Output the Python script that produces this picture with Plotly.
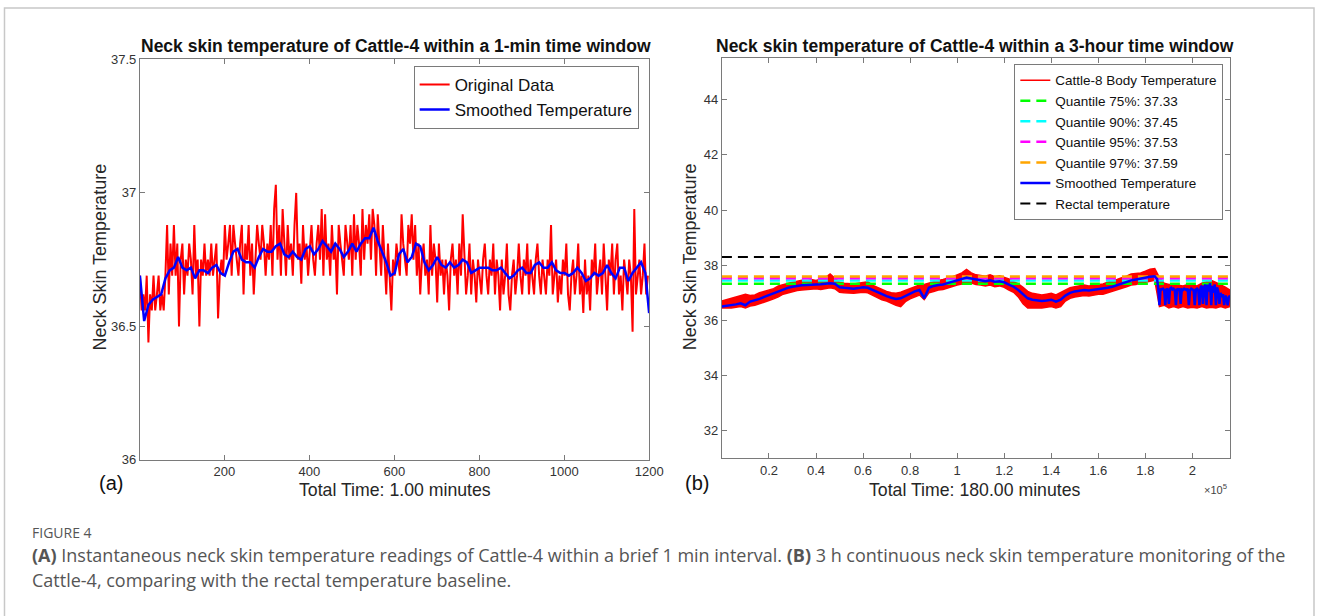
import numpy as np
import plotly.graph_objects as go

W, H = 1328, 616
# measured mapping between layout pixels and the photographed picture
SX, OY, SY = 0.99, 7.0, 0.977

# ---------------- Panel (a): 1-min window (20 Hz samples) ----------------
a_raw_step = 4  # one reading shown every 4 samples
a_raw = [
    36.69, 36.56, 36.62, 36.56, 36.69, 36.44, 36.62, 36.56, 36.69, 36.56, 36.62, 36.69, 36.56, 36.62, 36.56, 36.69, 36.88, 36.62, 36.81, 36.69,
    36.88, 36.69, 36.81, 36.50, 36.75, 36.81, 36.62, 36.75, 36.69, 36.81, 36.75, 36.62, 36.88, 36.69, 36.75, 36.50, 36.75, 36.69, 36.81, 36.69,
    36.75, 36.69, 36.81, 36.69, 36.75, 36.81, 36.53, 36.69, 36.75, 36.69, 36.88, 36.75, 36.81, 36.88, 36.69, 36.88, 36.81, 36.75, 36.69, 36.81,
    36.88, 36.62, 36.81, 36.75, 36.88, 36.69, 36.81, 36.62, 36.75, 36.88, 36.81, 36.75, 36.88, 36.81, 36.69, 36.81, 36.75, 36.88, 36.69, 36.94,
    37.03, 36.75, 36.88, 36.69, 36.94, 36.81, 36.69, 36.88, 36.75, 36.81, 36.69, 36.88, 37.00, 36.75, 36.81, 36.66, 36.88, 36.75, 36.81, 36.69,
    36.81, 36.88, 36.75, 36.69, 36.81, 36.88, 36.75, 36.94, 36.69, 36.92, 36.75, 36.81, 36.69, 36.88, 36.75, 36.81, 36.62, 36.88, 36.81, 36.75,
    36.69, 36.88, 36.81, 36.75, 36.88, 36.69, 36.92, 36.75, 36.88, 36.81, 36.69, 36.94, 36.75, 36.88, 36.81, 36.92, 36.75, 36.94, 36.88, 36.69,
    36.92, 36.81, 36.69, 36.88, 36.75, 36.62, 36.81, 36.69, 36.56, 36.75, 36.69, 36.81, 36.75, 36.69, 36.92, 36.81, 36.75, 36.69, 36.88, 36.81,
    36.92, 36.75, 36.88, 36.69, 36.81, 36.62, 36.75, 36.81, 36.69, 36.75, 36.62, 36.88, 36.69, 36.81, 36.75, 36.59, 36.81, 36.69, 36.75, 36.62,
    36.75, 36.69, 36.56, 36.75, 36.81, 36.69, 36.75, 36.62, 36.81, 36.69, 36.92, 36.75, 36.62, 36.69, 36.81, 36.62, 36.75, 36.69, 36.59, 36.75,
    36.69, 36.62, 36.75, 36.81, 36.69, 36.62, 36.75, 36.69, 36.81, 36.62, 36.75, 36.69, 36.56, 36.75, 36.62, 36.69, 36.81, 36.62, 36.56, 36.69,
    36.75, 36.62, 36.69, 36.81, 36.69, 36.62, 36.75, 36.69, 36.81, 36.62, 36.75, 36.69, 36.62, 36.75, 36.81, 36.69, 36.62, 36.75, 36.69, 36.62,
    36.75, 36.69, 36.88, 36.62, 36.69, 36.75, 36.59, 36.69, 36.62, 36.75, 36.69, 36.81, 36.62, 36.56, 36.69, 36.75, 36.62, 36.69, 36.81, 36.62,
    36.69, 36.55, 36.75, 36.62, 36.69, 36.56, 36.75, 36.69, 36.81, 36.62, 36.69, 36.75, 36.62, 36.81, 36.69, 36.56, 36.75, 36.69, 36.81, 36.62,
    36.75, 36.81, 36.62, 36.69, 36.56, 36.75, 36.69, 36.62, 36.75, 36.69, 36.48, 36.94, 36.62, 36.69, 36.75, 36.62, 36.69, 36.81, 36.62, 36.69,
]
a_smooth_step = 10
a_smooth = [
    36.69, 36.52, 36.58, 36.60, 36.61, 36.62, 36.68, 36.71, 36.72, 36.76, 36.72, 36.71, 36.72, 36.68, 36.71, 36.71, 36.70, 36.72, 36.73, 36.70,
    36.69, 36.74, 36.78, 36.79, 36.75, 36.74, 36.74, 36.72, 36.76, 36.79, 36.78, 36.78, 36.80, 36.81, 36.77, 36.76, 36.78, 36.76, 36.75, 36.79,
    36.80, 36.77, 36.79, 36.82, 36.80, 36.78, 36.81, 36.79, 36.76, 36.78, 36.81, 36.78, 36.81, 36.83, 36.83, 36.87, 36.82, 36.78, 36.74, 36.69,
    36.70, 36.77, 36.79, 36.74, 36.76, 36.81, 36.80, 36.74, 36.71, 36.73, 36.76, 36.73, 36.72, 36.74, 36.72, 36.73, 36.75, 36.74, 36.70, 36.71,
    36.72, 36.72, 36.72, 36.71, 36.71, 36.72, 36.70, 36.68, 36.69, 36.71, 36.72, 36.70, 36.70, 36.73, 36.74, 36.72, 36.72, 36.74, 36.71, 36.70,
    36.70, 36.69, 36.70, 36.72, 36.70, 36.67, 36.68, 36.70, 36.69, 36.70, 36.73, 36.70, 36.68, 36.72, 36.72, 36.67, 36.70, 36.72, 36.74, 36.70,
    36.55,
]
a_xticks = [200, 400, 600, 800, 1000, 1200]
a_yticks = [36, 36.5, 37, 37.5]

# ---------------- Panel (b): 3-hour window ----------------
b_step = 2000
b_raw_high = [
    36.70, 36.75, 36.80, 36.85, 36.90, 36.95, 36.90, 36.92, 37.00, 37.05, 37.12, 37.15, 37.25, 37.30, 37.35, 37.38, 37.42, 37.45, 37.42, 37.48,
    37.45, 37.50, 37.55, 37.68, 37.52, 37.38, 37.35, 37.33, 37.32, 37.35, 37.38, 37.40, 37.28, 37.20, 37.12, 37.05, 37.00, 36.98, 37.02, 37.08,
    37.15, 37.22, 37.28, 37.30, 37.35, 37.42, 37.45, 37.48, 37.52, 37.58, 37.65, 37.72, 37.85, 37.72, 37.65, 37.62, 37.60, 37.65, 37.58, 37.62,
    37.55, 37.50, 37.40, 37.32, 37.20, 37.05, 36.98, 36.95, 36.92, 36.95, 36.98, 36.92, 37.00, 37.08, 37.18, 37.22, 37.25, 37.28, 37.25, 37.28,
    37.30, 37.32, 37.38, 37.42, 37.48, 37.55, 37.60, 37.68, 37.70, 37.72, 37.78, 37.85, 37.88, 37.55, 37.35, 37.30, 37.30, 37.28, 37.25, 37.30,
    37.28, 37.25, 37.35, 37.40, 37.45, 37.38, 37.30, 37.20, 37.10,
]
b_raw_low = [
    36.45, 36.45, 36.45, 36.48, 36.50, 36.45, 36.52, 36.55, 36.60, 36.65, 36.72, 36.78, 36.85, 36.95, 37.00, 37.05, 37.08, 37.10, 37.12, 37.12,
    37.15, 37.12, 37.15, 37.18, 37.15, 37.02, 37.00, 36.98, 36.98, 37.00, 37.02, 37.00, 36.92, 36.85, 36.75, 36.70, 36.62, 36.55, 36.50, 36.68,
    36.78, 36.85, 36.92, 36.75, 37.00, 37.05, 37.10, 37.12, 37.18, 37.22, 37.28, 37.32, 37.38, 37.35, 37.30, 37.28, 37.25, 37.28, 37.22, 37.25,
    37.20, 37.10, 37.02, 36.85, 36.60, 36.45, 36.45, 36.45, 36.45, 36.48, 36.50, 36.45, 36.50, 36.70, 36.80, 36.85, 36.88, 36.90, 36.88, 36.92,
    36.95, 36.95, 37.00, 37.05, 37.10, 37.15, 37.22, 37.28, 37.30, 37.35, 37.38, 37.40, 37.45, 36.50, 36.55, 36.45, 36.50, 36.45, 36.50, 36.45,
    36.48, 36.45, 36.50, 36.45, 36.48, 36.45, 36.50, 36.45, 36.50,
]
# smoothed curve: every 2000 samples up to 184000, then every 500 samples
b_smooth_main = [
    36.50, 36.52, 36.55, 36.58, 36.62, 36.55, 36.68, 36.72, 36.78, 36.85, 36.92, 36.98, 37.05, 37.12, 37.18, 37.22, 37.25, 37.27, 37.28, 37.30,
    37.30, 37.31, 37.32, 37.35, 37.33, 37.20, 37.18, 37.16, 37.15, 37.17, 37.20, 37.18, 37.10, 37.02, 36.95, 36.88, 36.82, 36.78, 36.80, 36.88,
    36.98, 37.05, 37.10, 36.80, 37.18, 37.25, 37.28, 37.30, 37.35, 37.40, 37.45, 37.50, 37.55, 37.52, 37.48, 37.45, 37.42, 37.45, 37.40, 37.42,
    37.38, 37.30, 37.22, 37.10, 36.95, 36.80, 36.75, 36.72, 36.70, 36.72, 36.75, 36.68, 36.75, 36.90, 37.00, 37.05, 37.08, 37.10, 37.08, 37.10,
    37.12, 37.15, 37.18, 37.22, 37.28, 37.35, 37.40, 37.45, 37.48, 37.52, 37.55, 37.58, 37.60,
]
b_tail_step = 500
b_smooth_tail = [
    37.55, 37.50, 37.15, 36.55, 37.15, 37.12, 37.15, 37.10, 36.55, 37.15, 37.12, 36.60, 37.15, 37.18, 37.12, 37.15,
    37.10, 36.55, 37.15, 37.12, 37.15, 36.60, 37.12, 37.10, 37.15, 37.12, 37.10, 37.15, 36.55, 37.10, 37.15, 37.12,
    37.10, 36.55, 37.12, 37.15, 37.10, 36.55, 37.20, 37.25, 36.60, 37.20, 37.30, 36.55, 37.30, 37.05, 37.35, 36.55,
    37.25, 37.00, 37.30, 36.55, 37.20, 37.05, 36.60, 37.00, 36.85, 36.95, 36.55, 36.90, 36.80, 36.55, 36.85, 36.90,
]
quantile_names = ["Quantile 75%: 37.33", "Quantile 90%: 37.45", "Quantile 95%: 37.53", "Quantile 97%: 37.59"]
quantile_values = [37.33, 37.45, 37.53, 37.59]
quantile_colors = ["#00FF00", "#00FFFF", "#FF00FF", "#FFA500"]
rectal_temp = 38.3
b_xmax = 216000
b_xtick_vals = [20000, 40000, 60000, 80000, 100000, 120000, 140000, 160000, 180000, 200000]
b_xtick_text = ["0.2", "0.4", "0.6", "0.8", "1", "1.2", "1.4", "1.6", "1.8", "2"]
b_yticks = [32, 34, 36, 38, 40, 42, 44]

# ---------------- figure (positions given in picture pixels) ----------------
def px_x(p):
    return min(1.0, max(0.0, (p / SX) / W))

def px_y(p):
    return 1 - ((p - OY) / SY) / H

fig = go.Figure()

a_raw_x = 1 + a_raw_step * np.arange(len(a_raw))
a_smooth_x = np.minimum(1 + a_smooth_step * np.arange(len(a_smooth)), 1200)

fig.add_trace(go.Scatter(x=a_raw_x, y=a_raw, mode="lines", name="Original Data",
                         line=dict(color="#FF0000", width=2), xaxis="x", yaxis="y", legend="legend"))
fig.add_trace(go.Scatter(x=a_smooth_x, y=a_smooth, mode="lines", name="Smoothed Temperature",
                         line=dict(color="#0000FF", width=2.5), xaxis="x", yaxis="y", legend="legend"))

b_x = b_step * np.arange(len(b_raw_high))
b_smooth_x = np.concatenate([b_step * np.arange(len(b_smooth_main)),
                             b_step * (len(b_smooth_main) - 1) + b_tail_step * (1 + np.arange(len(b_smooth_tail)))])
b_smooth_y = b_smooth_main + b_smooth_tail

fig.add_trace(go.Scatter(x=b_x, y=b_raw_high, mode="lines", name="Cattle-8 Body Temperature",
                         line=dict(color="#FF0000", width=1.5), xaxis="x2", yaxis="y2", legend="legend2"))
fig.add_trace(go.Scatter(x=b_x, y=b_raw_low, mode="lines", fill="tonexty", fillcolor="#FF0000",
                         line=dict(color="#FF0000", width=1.5), showlegend=False,
                         xaxis="x2", yaxis="y2", legend="legend2"))
for nm, val, col in zip(quantile_names, quantile_values, quantile_colors):
    fig.add_trace(go.Scatter(x=[0, b_xmax], y=[val, val], mode="lines", name=nm,
                             line=dict(color=col, width=2.5, dash="10px,6px"),
                             xaxis="x2", yaxis="y2", legend="legend2"))
fig.add_trace(go.Scatter(x=b_smooth_x, y=b_smooth_y, mode="lines", name="Smoothed Temperature",
                         line=dict(color="#0000FF", width=2.5), xaxis="x2", yaxis="y2", legend="legend2"))
fig.add_trace(go.Scatter(x=[0, b_xmax], y=[rectal_temp, rectal_temp], mode="lines", name="Rectal temperature",
                         line=dict(color="#000000", width=2, dash="10px,6px"),
                         xaxis="x2", yaxis="y2", legend="legend2"))

axis_common = dict(showline=True, linecolor="#7a7a7a", linewidth=1, mirror="ticks",
                   ticks="inside", ticklen=5, tickcolor="#7a7a7a", showgrid=False, zeroline=False,
                   tickfont=dict(family="Liberation Sans, Arial", size=13, color="#333333"))

fig.update_layout(
    width=W, height=H,
    margin=dict(l=0, r=0, t=0, b=0),
    paper_bgcolor="white", plot_bgcolor="white",
    font=dict(family="Liberation Sans, Arial", color="#222222"),
    xaxis=dict(domain=[px_x(140), px_x(649.5)], range=[1, 1200], tickvals=a_xticks,
               anchor="y", **axis_common),
    yaxis=dict(domain=[px_y(460.5), px_y(59.5)], range=[36, 37.5], tickvals=a_yticks,
               ticktext=["36", "36.5", "37", "37.5"], anchor="x", **axis_common),
    xaxis2=dict(domain=[px_x(722.3), px_x(1230.7)], range=[0, b_xmax], tickvals=b_xtick_vals,
                ticktext=b_xtick_text, anchor="y2", **axis_common),
    yaxis2=dict(domain=[px_y(459), px_y(58.3)], range=[31, 45.5], tickvals=b_yticks, anchor="x2",
                **axis_common),
    legend=dict(x=px_x(639), y=px_y(66), xanchor="right", yanchor="top",
                bgcolor="white", bordercolor="#7a7a7a", borderwidth=1,
                font=dict(family="Liberation Sans, Arial", size=17, color="#111111"),
                tracegroupgap=0, traceorder="normal"),
    legend2=dict(x=px_x(1224), y=px_y(64), xanchor="right", yanchor="top",
                 bgcolor="white", bordercolor="#7a7a7a", borderwidth=1,
                 font=dict(family="Liberation Sans, Arial", size=13.5, color="#111111"),
                 tracegroupgap=0, traceorder="normal"),
    showlegend=True,
)

ann = []
def add_text(text, x, y, size, bold=False, angle=0, xanchor="center", yanchor="middle",
             color="#111111", family="Liberation Sans, Arial"):
    ann.append(dict(text=f"<b>{text}</b>" if bold else text, x=px_x(x), y=px_y(y),
                    xref="paper", yref="paper", showarrow=False, textangle=angle,
                    xanchor=xanchor, yanchor=yanchor,
                    font=dict(family=family, size=size, color=color)))

add_text("Neck skin temperature of Cattle-4 within a 1-min time window", 396, 46, 17.5, bold=True)
add_text("Neck skin temperature of Cattle-4 within a 3-hour time window", 976, 46, 17.5, bold=True)
add_text("Neck Skin Temperature", 100, 257, 18, angle=-90, color="#262626")
add_text("Neck Skin Temperature", 690, 257, 18, angle=-90, color="#262626")
add_text("Total Time: 1.00 minutes", 395, 491, 17.7, color="#262626")
add_text("Total Time: 180.00 minutes", 976, 491, 17.7, color="#262626")
add_text("(a)", 111, 484, 20, color="#111111")
add_text("(b)", 697, 484, 20, color="#111111")
add_text("×10<sup>5</sup>", 1216, 490, 11, color="#444444")

cap_font = "Open Sans, Noto Sans, Arial"
add_text("FIGURE 4", 30, 533, 14, xanchor="left", color="#555555", family=cap_font)
add_text("<b>(A)</b> Instantaneous neck skin temperature readings of Cattle-4 within a brief 1 min interval. "
         "<b>(B)</b> 3 h continuous neck skin temperature monitoring of the",
         30, 556, 18, xanchor="left", color="#555555", family=cap_font)
add_text("Cattle-4, comparing with the rectal temperature baseline.", 30, 581, 18, xanchor="left",
         color="#555555", family=cap_font)
fig.update_layout(annotations=ann)

fig.add_shape(type="rect", xref="paper", yref="paper",
              x0=px_x(4.5), x1=px_x(1326), y0=-0.05, y1=min(1.0 - 1.0 / H, px_y(4.5)),
              line=dict(color="#c8c8c8", width=1.5), fillcolor="rgba(0,0,0,0)", layer="below")

fig.write_html("out.html")
